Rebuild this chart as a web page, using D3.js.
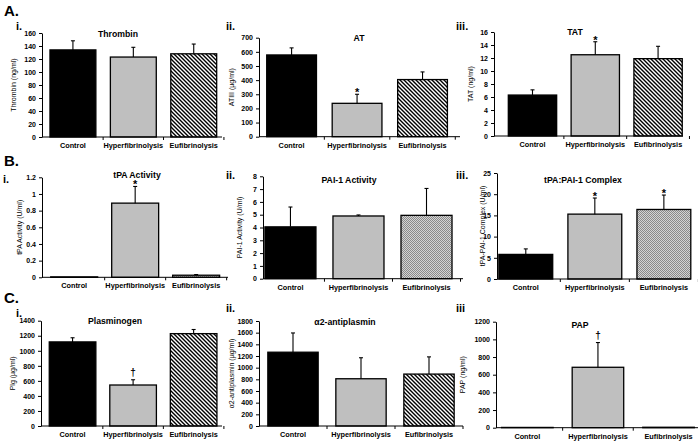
<!DOCTYPE html>
<html><head><meta charset="utf-8">
<script src="https://cdn.jsdelivr.net/npm/d3@7"></script>
<style>
html,body{margin:0;padding:0;background:#fff;}
svg{display:block;font-family:"Liberation Sans",Arial,sans-serif;}
</style></head>
<body>
<svg id="c" width="698" height="445"></svg>
<script>
// ---------- data ----------
const categories = ["Control", "Hyperfibrinolysis", "Eufibrinolysis"];

const thrombin = [134, 123, 128];
const thrombinErr = [14, 15, 15];
const at3 = [578, 236, 404];
const at3Err = [50, 64, 54];
const tat = [6.3, 12.5, 11.9];
const tatErr = [0.8, 2.0, 1.9];
const tpaActivity = [0.005, 0.89, 0.025];
const tpaActivityErr = [0, 0.2, 0.008];
const pai1Activity = [4.05, 4.9, 4.95];
const pai1ActivityErr = [1.55, 0.08, 2.1];
const tpaPai1 = [5.8, 15.3, 16.4];
const tpaPai1Err = [1.3, 3.8, 3.4];
const plasminogen = [1118, 545, 1228];
const plasminogenErr = [55, 70, 55];
const a2ap = [1265, 810, 890];
const a2apErr = [330, 360, 295];
const pap = [3, 684, 5];
const papErr = [0, 280, 0];

const titles = ["Thrombin", "AT", "TAT", "tPA Activity", "PAI-1 Activity", "tPA:PAI-1 Complex", "Plasminogen", "\u03b12-antiplasmin", "PAP"];
const yLabels = ["Thrombin  (ng/ml)", "ATIII (\u00b5g/ml)", "TAT (ng/ml)", "tPA Activity (U/ml)", "PAI-1 Activity (U/ml)", "tPA-PAI-1 Complex (U/ml)", "Plg (\u00b5g/ml)", "\u03b12-antiplasmin (\u00b5g/ml)", "PAP (ng/ml)"];
const yMax = [160, 700, 16, 1.2, 8, 25, 1400, 1800, 1200];
const yStep = [20, 100, 2, 0.2, 1, 5, 200, 200, 200];
const marks = [[null,null,null],[null,"*",null],[null,"*",null],[null,"*",null],[null,null,null],[null,"*","*"],[null,"\u2020",null],[null,null,null],[null,"\u2020",null]];
const romans = ["i.", "ii.", "iii.", "i.", "ii.", "iii.", "i.", "ii.", "iii"];
const rowLetters = ["A.", "B.", "C."];

const values = [thrombin, at3, tat, tpaActivity, pai1Activity, tpaPai1, plasminogen, a2ap, pap];
const errors = [thrombinErr, at3Err, tatErr, tpaActivityErr, pai1ActivityErr, tpaPai1Err, plasminogenErr, a2apErr, papErr];

// ---------- layout (per panel) ----------
const layout = [
  {x0:42, x1:222, yTop:33, yZero:137, pi:0.24, po:0.11, al:0.6, tx:118, ty:37, lx:16, rx:16, ry:29.5},
  {x0:259, x1:460, yTop:37.7, yZero:136.7, pi:0.24, po:0.155, al:0.38, tx:359, ty:41, lx:234, rx:226, ry:29.5},
  {x0:494, x1:683, yTop:32, yZero:136, pi:0.23, po:0.12, al:0.95, tx:575, ty:35, lx:473, rx:456, ry:29.5},
  {x0:42, x1:228, yTop:177.3, yZero:277.3, pi:0.23, po:0.14, al:0.51, tx:137, ty:178, lx:21.5, rx:3, ry:183},
  {x0:263, x1:463, yTop:176.3, yZero:278.7, pi:0.25, po:0.095, al:0.15, tx:349, ty:183, lx:242, rx:226, ry:179},
  {x0:497, x1:691, yTop:173, yZero:279, pi:0.22, po:0.015, al:0.9, tx:583, ty:183, lx:485, rx:456, ry:179},
  {x0:41, x1:222, yTop:320.7, yZero:426, pi:0.23, po:0.11, al:0.62, tx:115, ty:324, lx:15, rx:16, ry:316.5},
  {x0:259, x1:463, yTop:321, yZero:426, pi:0.26, po:0.13, al:0.5, tx:345, ty:325, lx:234, rx:226, ry:312},
  {x0:496, x1:712, yTop:321.7, yZero:427.7, pi:0.27, po:0.165, al:0.24, tx:580, ty:328, lx:465, rx:456, ry:312}
];
const rowLetterPos = [{x:4, y:16}, {x:4, y:166}, {x:4, y:303}];

const svg = d3.select("#c");
const defs = svg.append("defs");
const hatch = defs.append("pattern").attr("id","hatch").attr("patternUnits","userSpaceOnUse")
  .attr("width",4).attr("height",4);
hatch.append("rect").attr("width",4).attr("height",4).attr("fill","#fff");
hatch.append("path").attr("d","M0,0L4,4M-1,3L1,5M3,-1L5,1").attr("stroke","#000").attr("stroke-width",1.4);
const dots = defs.append("pattern").attr("id","dots").attr("patternUnits","userSpaceOnUse")
  .attr("width",2).attr("height",2);
dots.append("rect").attr("width",2).attr("height",2).attr("fill","#d4d4d4");
dots.append("rect").attr("width",1).attr("height",1).attr("fill","#8a8a8a");
dots.append("rect").attr("x",1).attr("y",1).attr("width",1).attr("height",1).attr("fill","#8a8a8a");

const fills = (p) => ["#000", "#bfbfbf", (p >= 3 && p <= 5) ? "url(#dots)" : "url(#hatch)"];

rowLetters.forEach((t,i) => {
  svg.append("text").attr("x", rowLetterPos[i].x).attr("y", rowLetterPos[i].y)
    .attr("font-size", 15).attr("font-weight","bold").text(t);
});

values.forEach((vals, p) => {
  const L = layout[p];
  const g = svg.append("g");
  const y = d3.scaleLinear().domain([0, yMax[p]]).range([L.yZero, L.yTop]);
  const x = d3.scaleBand().domain(categories).range([L.x0, L.x1])
    .paddingInner(L.pi).paddingOuter(L.po).align(L.al);

  // roman numeral
  g.append("text").attr("x", L.rx).attr("y", L.ry).attr("font-size", 11)
    .attr("font-weight","bold").text(romans[p]);

  // title
  g.append("text").attr("x", L.tx).attr("y", L.ty).attr("text-anchor","middle")
    .attr("font-size", 8.7).attr("font-weight","bold").text(titles[p]);

  // y label
  g.append("text").attr("transform", `translate(${L.lx},${(L.yTop + L.yZero) / 2}) rotate(-90)`)
    .attr("text-anchor","middle").attr("font-size", 7).text(yLabels[p]);

  // bars
  const f = fills(p);
  const errs = errors[p];
  categories.forEach((c, i) => {
    const bx = x(c), bw = x.bandwidth();
    const top = y(vals[i]);
    g.append("rect").attr("x", bx).attr("y", top).attr("width", bw)
      .attr("height", Math.max(0, y(0) - top)).attr("fill", f[i])
      .attr("stroke", "#000").attr("stroke-width", 1.3);
    if (errs[i] > 0) {
      const cx = bx + bw / 2, et = y(vals[i] + errs[i]);
      g.append("line").attr("x1", cx).attr("x2", cx).attr("y1", top).attr("y2", et)
        .attr("stroke","#000").attr("stroke-width",1.1);
      g.append("line").attr("x1", cx - 2).attr("x2", cx + 2).attr("y1", et).attr("y2", et)
        .attr("stroke","#000").attr("stroke-width",1.1);
    }
    if (marks[p][i]) {
      const et = y(vals[i] + errs[i]);
      const isStar = marks[p][i] === "*";
      g.append("text").attr("x", bx + bw / 2).attr("y", isStar ? et + 2 : et - 4)
        .attr("text-anchor","middle").attr("font-size", isStar ? 11 : 10).attr("font-weight","bold")
        .text(marks[p][i]);
    }
  });

  // y axis
  const ticks = d3.range(0, yMax[p] + yStep[p] / 2, yStep[p]).map(v => +v.toFixed(4));
  const ya = g.append("g").attr("transform", `translate(${L.x0},0)`)
    .call(d3.axisLeft(y).tickValues(ticks).tickSize(3).tickSizeOuter(0).tickPadding(3)
      .tickFormat(d3.format("~g")));
  ya.selectAll("text").attr("font-size", 7).attr("font-weight","bold")
    .attr("font-family","'Liberation Sans',Arial,sans-serif").attr("fill","#000");
  ya.selectAll("line,path").attr("stroke","#000");

  // x axis
  g.append("line").attr("x1", L.x0).attr("x2", L.x1).attr("y1", L.yZero).attr("y2", L.yZero)
    .attr("stroke","#000");
  [1, 2, 3].forEach(k => {
    const tx = L.x0 + k * x.step() + (x(categories[0]) - L.x0) - x.step() * x.paddingInner() / 2;
    g.append("line").attr("x1", tx).attr("x2", tx).attr("y1", L.yZero).attr("y2", L.yZero + 3)
      .attr("stroke","#000");
  });
  categories.forEach(c => {
    g.append("text").attr("x", x(c) + x.bandwidth() / 2).attr("y", L.yZero + 11)
      .attr("text-anchor","middle").attr("font-size", 7.3).attr("font-weight","bold").text(c);
  });
});
</script>
</body></html>
